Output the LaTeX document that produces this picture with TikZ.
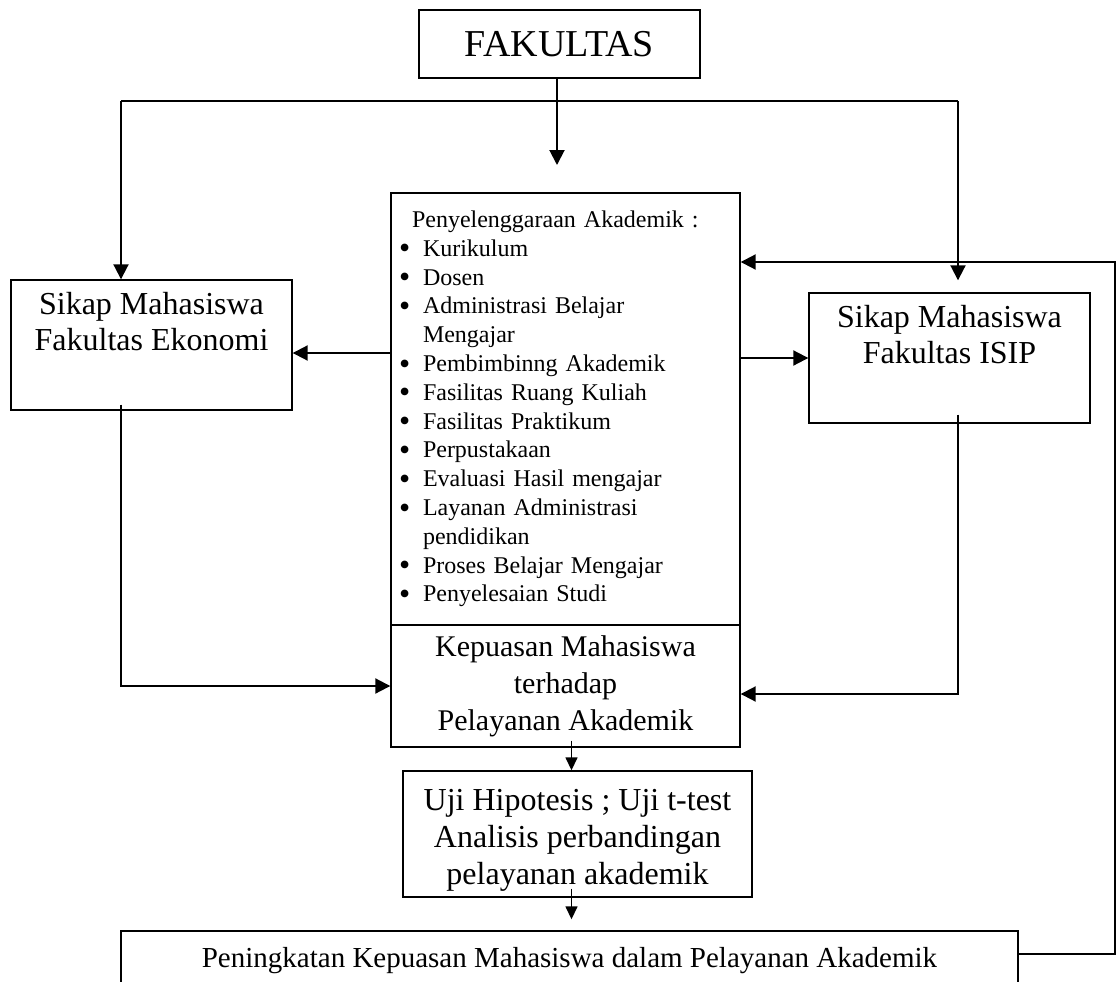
\documentclass[tikz,border=0pt]{standalone}
\usepackage{fontspec}
\usepackage{graphicx}
\setmainfont{Liberation Serif}
\usetikzlibrary{arrows.meta,calc}
\newcommand\butir[1]{\makebox[24pt][l]{\raisebox{-2.5pt}[0pt][0pt]{\scalebox{1.33}{\textbullet}}}#1}
\newcommand\lanjut[1]{\hspace*{24pt}#1}

\begin{document}
\begin{tikzpicture}[x=1pt, y=-1pt,
  kotak/.style={draw, line width=1.4pt, inner sep=0pt, align=center},
  panah/.style={line width=2pt, -{Triangle[length=15pt,width=15pt]}},
  panahkecil/.style={line width=1.5pt, -{Triangle[length=13pt,width=12pt]}}]

\useasboundingbox (0,0) rectangle (1117,982);

\node[kotak, minimum width=281pt, minimum height=68pt, font=\fontsize{38}{44}\selectfont] (fak) at (559.5,44) {FAKULTAS};
\node[kotak, minimum width=281pt, minimum height=130pt, font=\fontsize{32}{36.5}\selectfont] (eko) at (151.5,345) {Sikap Mahasiswa\\Fakultas Ekonomi\\\strut};
\node[kotak, minimum width=281pt, minimum height=130pt, font=\fontsize{32}{36.5}\selectfont] (isip) at (949.5,358) {Sikap Mahasiswa\\Fakultas ISIP\\\strut};
\node[kotak, minimum width=349pt, minimum height=432pt, text width=333pt, inner xsep=8pt, align=left, font=\fontsize{24}{28.8}\selectfont] (prog) at (565.5,409) {\hspace*{13pt}Penyelenggaraan Akademik :\\
\butir{Kurikulum}\\
\butir{Dosen}\\
\butir{Administrasi Belajar}\\
\lanjut{Mengajar}\\
\butir{Pembimbinng Akademik}\\
\butir{Fasilitas Ruang Kuliah}\\
\butir{Fasilitas Praktikum}\\
\butir{Perpustakaan}\\
\butir{Evaluasi Hasil mengajar}\\
\butir{Layanan Administrasi}\\
\lanjut{pendidikan}\\
\butir{Proses Belajar Mengajar}\\
\butir{Penyelesaian Studi}};
\node[kotak, minimum width=349pt, minimum height=122pt, font=\fontsize{30}{37}\selectfont] (kep) at (565.5,686) {Kepuasan Mahasiswa\\terhadap\\Pelayanan Akademik};
\node[kotak, minimum width=349pt, minimum height=126pt, font=\fontsize{32}{37}\selectfont] (uji) at (577.5,834) {\raisebox{-6pt}[\height][\depth]{\begin{tabular}{@{}c@{}}Uji Hipotesis ; Uji t-test\\Analisis perbandingan\\pelayanan akademik\end{tabular}}};
\node[kotak, minimum width=897pt, minimum height=59pt, font=\fontsize{29}{34}\selectfont] (hasil) at (569.5,960.5) {Peningkatan Kepuasan Mahasiswa dalam Pelayanan Akademik};

\coordinate (faktip) at (557,165);
\coordinate (busL) at (121,101);
\coordinate (busR) at (958,101);
\coordinate (balik) at (1115,262);
\coordinate (poros) at (571.5,0);

\draw[panah] (fak.south -| faktip) -- (faktip);
\draw[line width=2pt] (busL) -- (busR);
\draw[panah] (busL) -- (eko.north -| busL);
\draw[panah, shorten >=12pt] (busR) -- (isip.north -| busR);

\draw[panah] ($(prog.west |- eko.east)+(0,8)$) -- ($(eko.east)+(0,8)$);
\draw[panah] (prog.east |- isip.west) -- (isip.west);

\draw[panah] ($(eko.south -| busL)+(0,-6)$) |- (kep.west);
\draw[panah] ($(isip.south -| busR)+(0,-9)$) |- ($(kep.east)+(0,8)$);

\draw[panahkecil] ($(poros |- kep.south)+(0,-7)$) -- (poros |- uji.north);
\draw[panahkecil, shorten >=11pt] ($(poros |- uji.south)+(0,-9)$) -- (poros |- hasil.north);

\draw[panah] ($(hasil.east)+(0,-7)$) -| (balik) -- (prog.east |- balik);

\end{tikzpicture}
\end{document}
